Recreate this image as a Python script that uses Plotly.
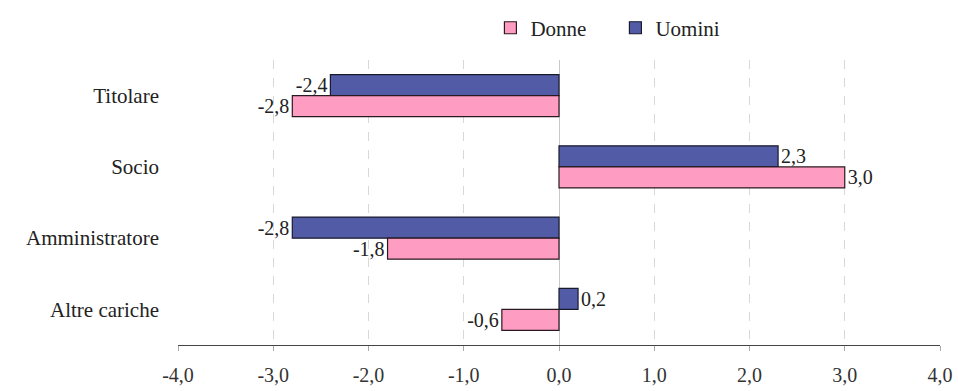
import plotly.graph_objects as go

# Variazione percentuale per tipo di carica e genere
categorie = ["Titolare", "Socio", "Amministratore", "Altre cariche"]
donne = [-2.8, 3.0, -1.8, -0.6]
uomini = [-2.4, 2.3, -2.8, 0.2]
tick_vals = [-4, -3, -2, -1, 0, 1, 2, 3, 4]

font_serif = "Liberation Serif, Times New Roman, serif"


def fmt(v):
    return f"{v:.1f}".replace(".", ",")


fig = go.Figure()

fig.add_trace(go.Bar(
    name="Uomini", y=categorie, x=uomini, orientation="h",
    marker=dict(color="#525CA6", line=dict(color="#1a1a2e", width=1.2)),
    text=[fmt(v) for v in uomini],
    textposition="outside", cliponaxis=False, constraintext="none",
    textfont=dict(family=font_serif, size=20, color="#222"),
    legendrank=2,
))
fig.add_trace(go.Bar(
    name="Donne", y=categorie, x=donne, orientation="h",
    marker=dict(color="#FF9CC2", line=dict(color="#2a1a20", width=1.2)),
    text=[fmt(v) for v in donne],
    textposition="outside", cliponaxis=False, constraintext="none",
    textfont=dict(family=font_serif, size=20, color="#222"),
    legendrank=1,
))

fig.update_layout(
    width=958, height=391,
    margin=dict(l=178, r=18, t=60, b=46, autoexpand=False),
    paper_bgcolor="white", plot_bgcolor="white",
    barmode="group", bargap=0.41, bargroupgap=0,
    separators=",.",
    font=dict(family=font_serif, size=20, color="#222"),
    legend=dict(
        orientation="h", x=0.41, xanchor="left", y=1.112, yanchor="middle",
        font=dict(family=font_serif, size=21, color="#222"),
        itemwidth=30, entrywidth=80, entrywidthmode="pixels",
    ),
    xaxis=dict(
        range=[-4, 4], tickvals=tick_vals,
        ticktext=[fmt(v) for v in tick_vals],
        showgrid=True, gridcolor="#d8d8d8", griddash="dash", gridwidth=1,
        zeroline=True, zerolinecolor="#c8c8c8", zerolinewidth=1,
        showline=True, linecolor="#444", linewidth=1,
        ticks="outside", ticklen=5, tickcolor="#aaa",
        ticklabelstandoff=7, automargin=False,
        tickfont=dict(family=font_serif, size=20, color="#333"),
    ),
    yaxis=dict(
        autorange="reversed", showgrid=False, zeroline=False,
        ticks="", ticklabelstandoff=18, automargin=False,
        tickfont=dict(family=font_serif, size=21, color="#222"),
    ),
)

fig.write_html("out.html")
